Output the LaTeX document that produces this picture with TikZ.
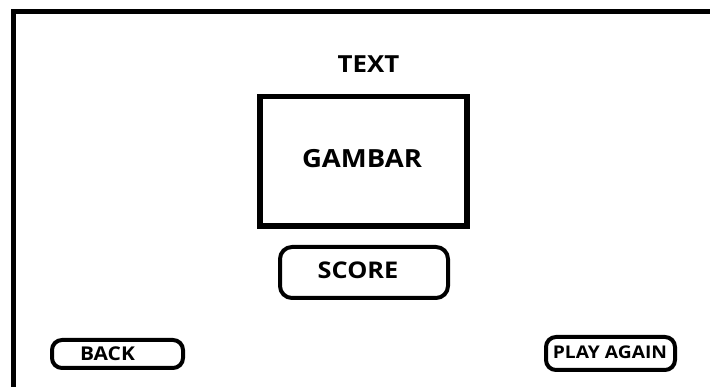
\documentclass[tikz,border=0pt]{standalone}
\usepackage{fontspec}
\setmainfont{Open Sans}
\newfontfamily\widefont[FakeStretch=1.1]{Open Sans}
\begin{document}
\begin{tikzpicture}[x=1pt,y=-1pt,
  lbl/.style={inner sep=0pt},
  frameline/.style={line width=5pt},
  imgbox/.style={draw, line width=5.5pt, rectangle, inner sep=0pt},
  btn/.style={draw, line width=4pt, rectangle, rounded corners=12pt, inner sep=0pt}]
\useasboundingbox (0,0) rectangle (710,387);
\fill[white] (0,0) rectangle (710,387);
% outer frame (top and left edges)
\coordinate (fbl) at (13,390);
\coordinate (ftl) at (13,12);
\coordinate (ftr) at (713,12);
\draw[frameline, line cap=butt] (fbl) -- (ftl) -- (ftr);
% title
\node[lbl, font=\widefont\fontsize{23.5}{23.5}\selectfont\bfseries] (title) at (368.5,64.5) {TEXT};
% picture box
\node[imgbox, minimum width=207pt, minimum height=129.5pt] (gbox) at (363.5,161.25) {};
\node[lbl, font=\widefont\fontsize{25}{25}\selectfont\bfseries] (gtext) at (362,159) {GAMBAR};
% score
\node[btn, minimum width=168pt, minimum height=51pt] (sbox) at (364,272.5) {};
\node[lbl, font=\widefont\fontsize{23}{23}\selectfont\bfseries] (stext) at (358,270) {SCORE};
% back
\node[btn, rounded corners=10pt, minimum width=131pt, minimum height=28pt] (bbox) at (117.5,354) {};
\node[lbl, font=\widefont\fontsize{19}{19}\selectfont\bfseries] (btext) at (107.5,354) {BACK};
% play again
\node[btn, rounded corners=10pt, minimum width=129pt, minimum height=33pt] (pbox) at (610.5,353.5) {};
\node[lbl, font=\widefont\fontsize{17.5}{17.5}\selectfont\bfseries] (ptext) at (610,352.5) {PLAY AGAIN};
\end{tikzpicture}
\end{document}
